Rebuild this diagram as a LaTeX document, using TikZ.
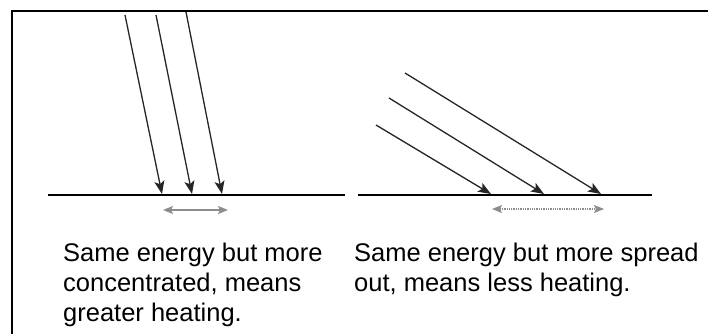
\documentclass[tikz,border=0pt]{standalone}
\usepackage{fontspec}
\setmainfont{Liberation Sans}
\usetikzlibrary{arrows.meta}
\begin{document}
\begin{tikzpicture}[x=1pt,y=-1pt,
  frameline/.style={line width=2.2pt,black},
  ground/.style={line width=2.8pt,black},
  ray/.style={line width=1.3pt,black!85,-{Stealth[length=13pt,width=10pt,inset=3pt]}},
  spanarrow/.style={line width=1.3pt,black!45,{Stealth[length=10pt,width=8pt,inset=2pt]}-{Stealth[length=10pt,width=8pt,inset=2pt]}},
  caption/.style={anchor=base west,inner sep=0pt,align=left,font=\fontsize{25.5}{30}\selectfont}]
\useasboundingbox (0,0) rectangle (708,334);
% frame
\coordinate (fTL) at (12,11);
\coordinate (fTR) at (708,11);
\coordinate (fBL) at (12,334);
\draw[frameline] (fTR) -- (fTL) -- (fBL);
% ground lines
\coordinate (gL1) at (48,195); \coordinate (gL2) at (345,195);
\coordinate (gR1) at (358,195); \coordinate (gR2) at (652,195);
\draw[ground] (gL1) -- (gL2);
\draw[ground] (gR1) -- (gR2);
% left rays
\coordinate (la1) at (125,15); \coordinate (lb1) at (162,194);
\coordinate (la2) at (156,15); \coordinate (lb2) at (192,194);
\coordinate (la3) at (186,12); \coordinate (lb3) at (222,194);
\draw[ray] (la1) -- (lb1);
\draw[ray] (la2) -- (lb2);
\draw[ray] (la3) -- (lb3);
% right rays
\coordinate (ra1) at (376,125); \coordinate (rb1) at (491,194);
\coordinate (ra2) at (389,98);  \coordinate (rb2) at (544,194);
\coordinate (ra3) at (405,73);  \coordinate (rb3) at (601,194);
\draw[ray] (ra1) -- (rb1);
\draw[ray] (ra2) -- (rb2);
\draw[ray] (ra3) -- (rb3);
% span arrows
\coordinate (ls1) at (163,210); \coordinate (ls2) at (228,210);
\coordinate (rs1) at (492,209); \coordinate (rs2) at (604,209);
\draw[spanarrow] (ls1) -- (ls2);
\draw[spanarrow,densely dotted] (rs1) -- (rs2);
% captions (base anchor = last line's baseline)
\node[caption] (capL) at (63,321) {Same energy but more\\concentrated, means\\greater heating.};
\node[caption] (capR) at (354,291) {Same energy but more spread\\out, means less heating.};
\end{tikzpicture}
\end{document}
